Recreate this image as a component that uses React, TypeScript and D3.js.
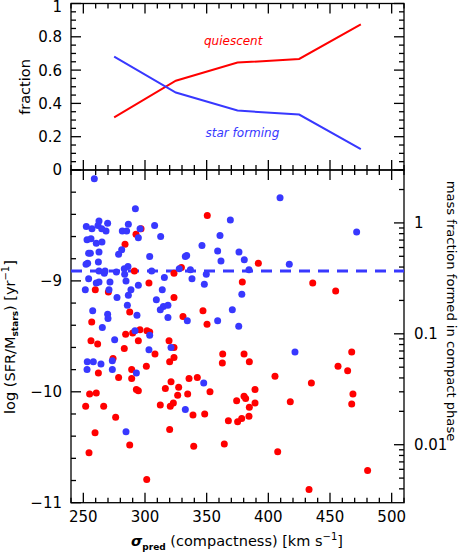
import React, { useRef, useEffect } from "react";
import * as d3 from "d3";

// top panel: fraction of quiescent / star forming galaxies per sigma bin
const sigmaBins = [275, 325, 375, 425, 475];
const quiescentFrac = [0.316, 0.536, 0.645, 0.667, 0.875];
const starFormingFrac = [0.681, 0.465, 0.357, 0.333, 0.126];

// bottom panel: star forming galaxies (blue)
const sfSigma = [
  258.9, 292.2, 369.2, 252.4, 257.0, 262.7, 261.9, 264.9, 268.4, 269.7,
  286.5, 281.6, 285.1, 296.0, 294.6, 307.8, 312.7, 253.0, 256.2, 260.5,
  265.1, 360.8, 346.2, 254.3, 255.7, 262.7, 281.1, 278.6, 262.2, 252.2,
  253.5, 303.8, 333.8, 332.7, 358.9, 361.6, 376.2, 286.2, 283.2, 283.5,
  262.7, 267.6, 267.0, 276.8, 305.4, 327.8, 336.8, 349.7, 315.7, 338.1,
  254.3, 284.6, 260.5, 262.7, 271.6, 251.6, 270.8, 294.6, 288.6, 286.5,
  277.3, 314.0, 348.1, 309.2, 314.9, 312.4, 318.6, 318.6, 334.3, 285.7,
  293.5, 269.7, 270.0, 257.6, 265.4, 358.9, 370.8, 376.0, 378.5, 291.9,
  303.8, 275.4, 303.2, 321.1, 253.2, 258.1, 264.3, 273.5, 253.0, 273.5,
  293.0, 347.6, 332.7, 284.6, 409.5, 471.6, 380.5, 384.3, 417.0, 421.6,
];
const sfSsfr = [
  -8.08, -8.35, -8.45, -8.51, -8.53, -8.46, -8.5, -8.53, -8.55, -8.48,
  -8.49, -8.55, -8.55, -8.53, -8.61, -8.5, -8.6, -8.63, -8.62, -8.66,
  -8.65, -8.59, -8.68, -8.75, -8.75, -8.74, -8.72, -8.76, -8.83, -8.85,
  -8.84, -8.78, -8.77, -8.78, -8.73, -8.82, -8.74, -8.87, -8.89, -8.94,
  -8.91, -8.91, -8.93, -8.92, -8.91, -8.89, -8.9, -8.94, -8.97, -8.98,
  -8.98, -9.0, -9.02, -9.01, -9.01, -9.08, -9.08, -9.04, -9.08, -9.13,
  -9.15, -9.08, -9.03, -9.17, -9.23, -9.26, -9.22, -9.33, -9.36, -9.22,
  -9.31, -9.3, -9.34, -9.27, -9.42, -9.36, -9.26, -9.41, -9.12, -9.45,
  -9.49, -9.53, -9.62, -9.6, -9.73, -9.73, -9.75, -9.72, -9.8, -9.8,
  -9.83, -9.92, -10.16, -10.36, -8.25, -8.56, -8.81, -8.9, -8.85, -9.64,
];

// bottom panel: quiescent galaxies (red)
const qSigma = [
  350.5, 292.7, 296.8, 283.8, 291.4, 323.5, 329.5, 303.2, 259.7, 270.3,
  323.5, 287.6, 330.8, 347.0, 350.3, 256.8, 284.3, 290.0, 295.9, 301.6,
  303.8, 294.6, 256.2, 261.6, 283.2, 319.5, 323.5, 308.1, 323.5, 320.0,
  274.1, 363.0, 362.7, 262.2, 289.2, 301.1, 278.6, 289.2, 321.1, 335.7,
  342.4, 316.5, 327.3, 293.0, 294.6, 352.7, 255.1, 260.5, 326.5, 334.6,
  251.9, 266.5, 276.2, 259.5, 254.6, 287.6, 301.4, 312.4, 320.5, 323.0,
  338.9, 348.4, 320.0, 339.5, 364.3, 367.6, 374.3, 375.1, 378.4, 391.9,
  378.9, 436.0, 454.6, 380.3, 384.6, 467.6, 456.5, 464.3, 405.4, 434.9,
  389.2, 380.3, 468.6, 381.6, 389.2, 384.6, 384.3, 417.8, 467.6, 407.6,
  433.0, 480.5,
];
const qSsfr = [
  -8.41, -8.58, -8.53, -8.67, -8.91, -8.93, -8.88, -9.02, -9.08, -9.1,
  -9.15, -9.28, -9.32, -9.27, -9.39, -9.37, -9.48, -9.47, -9.44, -9.45,
  -9.46, -9.54, -9.54, -9.57, -9.61, -9.54, -9.6, -9.66, -9.69, -9.73,
  -9.7, -9.66, -9.74, -9.83, -9.8, -9.77, -9.87, -9.88, -9.91, -9.88,
  -9.87, -9.97, -9.96, -9.98, -9.99, -10.0, -10.02, -10.01, -10.03, -10.02,
  -10.13, -10.13, -10.23, -10.37, -10.55, -10.48, -10.79, -10.12, -10.13, -10.1,
  -10.21, -10.2, -10.34, -10.49, -10.47, -10.26, -10.08, -10.27, -10.24, -8.84,
  -9.01, -9.02, -9.09, -9.66, -9.73, -9.64, -9.77, -9.81, -9.86, -9.92,
  -9.98, -10.04, -10.02, -10.06, -10.1, -10.14, -10.22, -10.09, -10.11, -10.54,
  -10.88, -10.71,
];

const dashLevel = -8.91;
const sigmaLabels = [250, 300, 350, 400, 450, 500];
const fracLabels = [0, 0.2, 0.4, 0.6, 0.8, 1];
const ssfrLabels = [-9, -10, -11];
const massFracLabels = [1, 0.1, 0.01];
// mass fraction = sSFR * 300 Myr
const logTime = Math.log10(3e8);

const RED = "#ff0000";
const BLUE = "#3838ff";
const FONT = "DejaVu Sans";

function App() {
  const svgRef = useRef(null);

  useEffect(() => {
    const svg = d3.select(svgRef.current);
    svg.selectAll("*").remove();

    const left = 71,
      right = 404,
      top = 3.5,
      mid = 170,
      bottom = 502.7;

    const x = d3.scaleLinear().domain([240, 510]).range([left, right]);
    const yFrac = d3.scaleLinear().domain([0, 1]).range([mid, top]);
    const ySsfr = d3.scaleLinear().domain([-11, -8]).range([bottom, mid]);
    const yMass = d3
      .scaleLog()
      .domain([Math.pow(10, -11 + logTime), Math.pow(10, -8 + logTime)])
      .range([bottom, mid]);

    const axes = svg.append("g").attr("stroke", "black").attr("stroke-width", 1.3);

    // frames
    [
      [top, mid],
      [mid, bottom],
    ].forEach(([y0, y1]) => {
      axes
        .append("rect")
        .attr("x", left)
        .attr("y", y0)
        .attr("width", right - left)
        .attr("height", y1 - y0)
        .attr("fill", "none");
    });

    const tick = (x1, y1, x2, y2) =>
      axes.append("line").attr("x1", x1).attr("y1", y1).attr("x2", x2).attr("y2", y2);

    // sigma ticks on all horizontal axes
    d3.range(240, 511, 10).forEach(function (v) {
      const len = v % 50 === 0 ? 10 : 5;
      const px = x(v);
      tick(px, top, px, top + len);
      tick(px, mid, px, mid - len);
      tick(px, mid, px, mid + len);
      tick(px, bottom, px, bottom - len);
    });

    // fraction ticks
    d3.range(0, 1.0001, 0.05).forEach(function (v) {
      const major = Math.abs(v * 5 - Math.round(v * 5)) < 1e-6;
      const len = major ? 10 : 5;
      const py = yFrac(v);
      tick(left, py, left + len, py);
      tick(right, py, right - len, py);
    });

    // log sSFR ticks (left)
    d3.range(-11, -7.999, 0.2).forEach(function (v) {
      const major = Math.abs(v - Math.round(v)) < 1e-6;
      tick(left, ySsfr(v), left + (major ? 10 : 5), ySsfr(v));
    });

    // mass fraction ticks (right, log)
    const [mLo, mHi] = yMass.domain();
    [0.001, 0.01, 0.1, 1].forEach(function (dec) {
      d3.range(1, 10).forEach(function (k) {
        const v = dec * k;
        if (v < mLo || v > mHi) return;
        tick(right, yMass(v), right - (k === 1 ? 10 : 5), yMass(v));
      });
    });

    // top panel lines
    const line = d3
      .line()
      .x((d) => x(d[0]))
      .y((d) => yFrac(d[1]));
    svg
      .append("path")
      .attr("d", line(sigmaBins.map((s, i) => [s, quiescentFrac[i]])))
      .attr("fill", "none")
      .attr("stroke", RED)
      .attr("stroke-width", 2);
    svg
      .append("path")
      .attr("d", line(sigmaBins.map((s, i) => [s, starFormingFrac[i]])))
      .attr("fill", "none")
      .attr("stroke", BLUE)
      .attr("stroke-width", 2);

    svg
      .append("text")
      .attr("x", x(371.5))
      .attr("y", yFrac(0.748))
      .attr("text-anchor", "middle")
      .attr("font-style", "italic")
      .attr("font-size", 12)
      .attr("fill", RED)
      .text("quiescent");
    svg
      .append("text")
      .attr("x", x(379))
      .attr("y", yFrac(0.2))
      .attr("text-anchor", "middle")
      .attr("font-style", "italic")
      .attr("font-size", 12)
      .attr("fill", BLUE)
      .text("star forming");

    // dashed level
    svg
      .append("line")
      .attr("x1", left)
      .attr("x2", right)
      .attr("y1", ySsfr(dashLevel))
      .attr("y2", ySsfr(dashLevel))
      .attr("stroke", BLUE)
      .attr("stroke-width", 3)
      .attr("stroke-dasharray", "11,8");

    // scatter
    svg
      .append("g")
      .selectAll("circle")
      .data(qSigma.map((s, i) => [s, qSsfr[i]]))
      .join("circle")
      .attr("cx", (d) => x(d[0]))
      .attr("cy", (d) => ySsfr(d[1]))
      .attr("r", 3.5)
      .attr("fill", RED);
    svg
      .append("g")
      .selectAll("circle")
      .data(sfSigma.map((s, i) => [s, sfSsfr[i]]))
      .join("circle")
      .attr("cx", (d) => x(d[0]))
      .attr("cy", (d) => ySsfr(d[1]))
      .attr("r", 3.5)
      .attr("fill", BLUE);

    // tick labels
    const labels = svg.append("g").attr("font-size", 15).attr("fill", "black");
    fracLabels.forEach(function (v) {
      labels
        .append("text")
        .attr("x", left - 9)
        .attr("y", Math.max(yFrac(v) + 5.4, 11.5)) // keep the top "1" inside the page
        .attr("text-anchor", "end")
        .text(String(v));
    });
    ssfrLabels.forEach(function (v) {
      labels
        .append("text")
        .attr("x", left - 9)
        .attr("y", ySsfr(v) + 5.4)
        .attr("text-anchor", "end")
        .text("\u2212" + Math.abs(v));
    });
    sigmaLabels.forEach(function (v) {
      labels
        .append("text")
        .attr("x", x(v))
        .attr("y", bottom + 19)
        .attr("text-anchor", "middle")
        .text(String(v));
    });
    massFracLabels.forEach(function (v) {
      labels
        .append("text")
        .attr("x", right + 10)
        .attr("y", yMass(v) + 5.4)
        .attr("text-anchor", "start")
        .text(String(v));
    });

    // axis titles
    svg
      .append("text")
      .attr("transform", "translate(30,87) rotate(-90)")
      .attr("text-anchor", "middle")
      .attr("font-size", 14.5)
      .text("fraction");

    const yTitle = svg
      .append("text")
      .attr("transform", "translate(15,337) rotate(-90)")
      .attr("text-anchor", "middle")
      .attr("font-size", 14.5);
    yTitle.append("tspan").text("log (SFR/M");
    yTitle
      .append("tspan")
      .attr("font-size", 9)
      .attr("font-weight", "bold")
      .attr("dy", 3)
      .text("stars");
    yTitle.append("tspan").attr("dy", -3).text(") [yr");
    yTitle.append("tspan").attr("font-size", 10).attr("dy", -6).text("\u22121");
    yTitle.append("tspan").attr("dy", 6).text("]");

    svg
      .append("text")
      .attr("transform", "translate(447,311) rotate(90)")
      .attr("text-anchor", "middle")
      .attr("font-size", 13.1)
      .text("mass fraction formed in compact phase");

    const xTitle = svg
      .append("text")
      .attr("x", 237)
      .attr("y", 546)
      .attr("text-anchor", "middle")
      .attr("font-size", 14.5);
    xTitle
      .append("tspan")
      .attr("font-style", "italic")
      .attr("font-weight", "bold")
      .text("\u03c3");
    xTitle
      .append("tspan")
      .attr("font-size", 9)
      .attr("font-weight", "bold")
      .attr("dy", 4)
      .text("pred");
    xTitle.append("tspan").attr("dy", -4).text(" (compactness) [km s");
    xTitle.append("tspan").attr("font-size", 10).attr("dy", -6).text("\u22121");
    xTitle.append("tspan").attr("dy", 6).text("]");
  }, []);

  return (
    <svg
      ref={svgRef}
      width={463}
      height={555}
      fontFamily={FONT}
      style={{ position: "absolute", left: 0, top: 0, background: "white" }}
    />
  );
}

export default App;
